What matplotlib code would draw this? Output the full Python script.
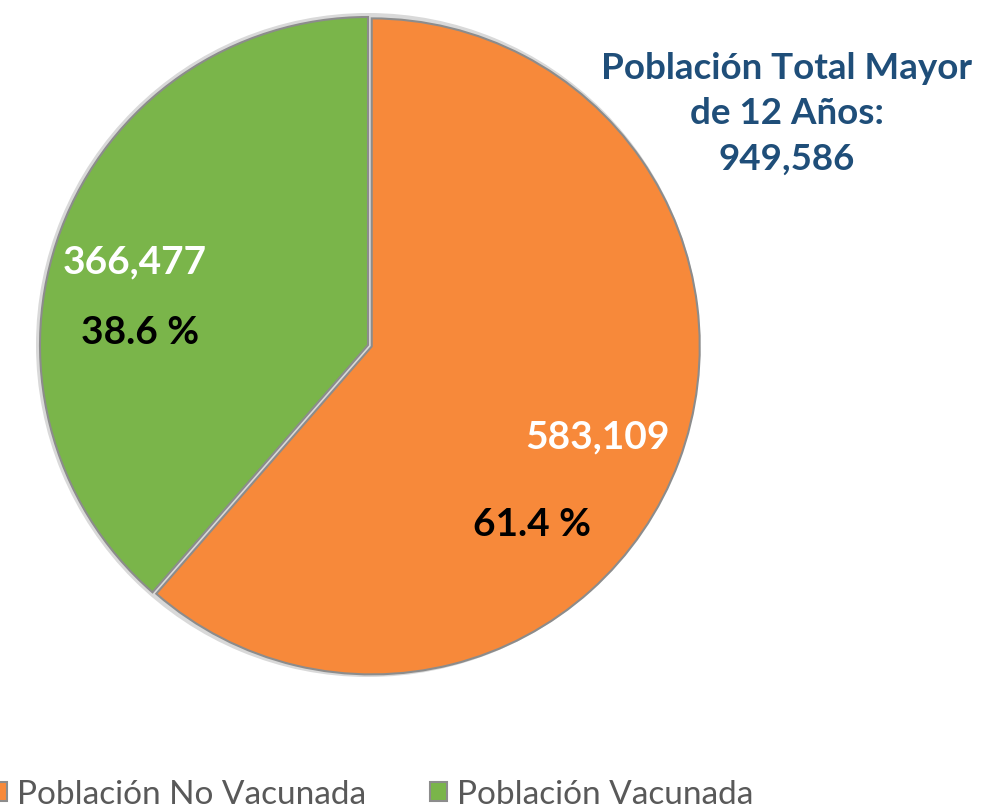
import matplotlib
matplotlib.use("Agg")
import matplotlib.pyplot as plt

plt.rcParams['font.family'] = ['Lato', 'DejaVu Sans']

categorias = ["Población No Vacunada", "Población Vacunada"]
valores = [583109, 366477]
etiquetas_valor = ["583,109", "366,477"]
porcentajes = ["61.4 %", "38.6 %"]
total_texto = "Población Total Mayor\nde 12 Años:\n949,586"
colores = ["#F7893A", "#7AB54A"]

fig = plt.figure(figsize=(10.02, 8.08), dpi=100)
ax = fig.add_axes([0, 0, 1, 1])

centro = (368, 463)
radio = 328

# borde claro detrás del pastel
ax.pie([1], radius=radio + 4, center=centro, colors=["#D9D9D9"],
       wedgeprops=dict(linewidth=0))
wedges, _ = ax.pie(valores, radius=radio, center=centro, colors=colores,
                   startangle=90, counterclock=False, explode=[4, 0],
                   wedgeprops=dict(edgecolor="#8C8C8C", linewidth=1.5))

ax.set_xlim(0, 1002)
ax.set_ylim(0, 808)
ax.set_aspect('equal')
ax.axis('off')

# etiquetas
ax.text(598, 808 - 437, etiquetas_valor[0], color="white", fontsize=28,
        fontweight="bold", ha="center", va="center")
ax.text(532, 808 - 525, porcentajes[0], color="black", fontsize=28,
        fontweight="bold", ha="center", va="center")
ax.text(135, 808 - 262, etiquetas_valor[1], color="white", fontsize=28,
        fontweight="bold", ha="center", va="center")
ax.text(140, 808 - 333, porcentajes[1], color="black", fontsize=28,
        fontweight="bold", ha="center", va="center")

ax.text(787, 808 - 114, total_texto, color="#1F4E79", fontsize=26.5,
        fontweight="bold", ha="center", va="center", linespacing=1.47)

leg = fig.legend(wedges, categorias, loc="lower left",
                 bbox_to_anchor=(-0.04, -0.039), ncol=2, frameon=False,
                 fontsize=24, handlelength=0.52, handleheight=0.52,
                 handletextpad=0.3, columnspacing=1.9)
for t in leg.get_texts():
    t.set_color("#595959")

fig.savefig("out.png", dpi=100)
